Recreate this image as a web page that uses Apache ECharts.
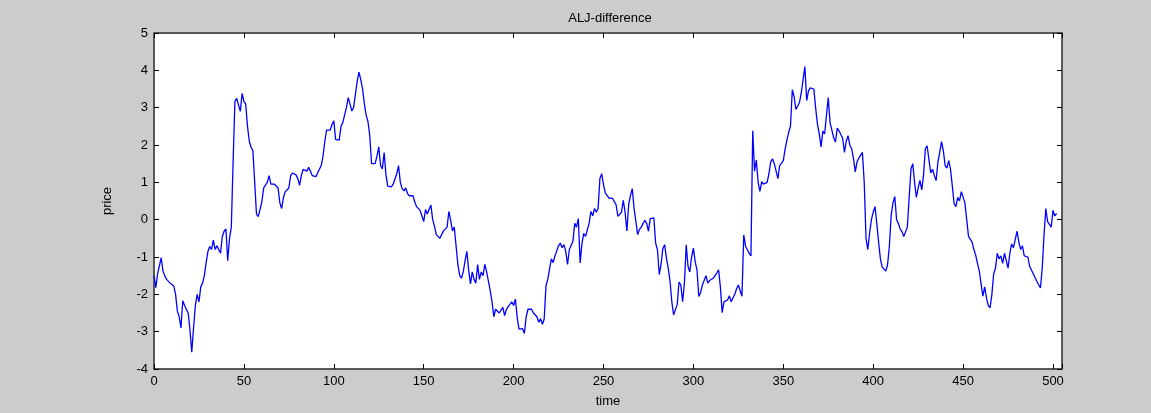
<!DOCTYPE html>
<html>
<head>
<meta charset="utf-8">
<title>ALJ-difference</title>
<script src="https://cdn.jsdelivr.net/npm/echarts@6/dist/echarts.min.js"></script>
<style>
  html, body { margin: 0; padding: 0; background: #cccccc; }
  #chart { width: 1151px; height: 413px; }
</style>
</head>
<body>
<div id="chart"></div>
<script>
// Price difference series, one value per time step (t = 0 .. 502)
const price = [
  -1.5, -1.82, -1.45, -1.5, -1.02, -1.38, -1.5, -1.6, -1.55, -1.7,
  -1.68, -1.78, -2.0, -2.45, -2.6, -2.9, -2.17, -2.3, -2.4, -2.5,
  -2.95, -3.55, -2.9, -2.3, -2.0, -2.2, -1.8, -1.7, -1.5, -1.15,
  -0.85, -0.72, -0.8, -0.55, -0.8, -0.7, -0.72, -0.9, -0.45, -0.31,
  -0.25, -1.1, -0.5, -0.2, 1.55, 3.17, 3.25, 3.3, 2.9, 3.38,
  3.17, 3.1, 2.5, 2.1, 1.94, 1.85, 1.0, 0.15, 0.08, 0.1,
  0.48, 0.85, 0.85, 1.0, 1.18, 0.95, 1.0, 0.95, 0.95, 0.85,
  0.45, 0.3, 0.6, 0.75, 0.7, 0.85, 1.18, 1.25, 1.28, 1.2,
  1.1, 0.92, 1.2, 1.35, 1.35, 1.3, 1.4, 1.3, 1.18, 1.15,
  1.15, 1.25, 1.25, 1.45, 1.7, 2.1, 2.4, 2.45, 2.4, 2.55,
  2.65, 2.15, 2.13, 2.13, 2.5, 2.6, 2.6, 3.0, 3.27, 3.1,
  2.91, 3.0, 3.0, 3.7, 3.95, 3.75, 3.5, 3.1, 2.8, 2.63,
  2.25, 1.5, 1.45, 1.5, 1.7, 1.95, 1.45, 1.36, 1.8, 1.2,
  0.9, 0.92, 0.88, 0.95, 0.9, 1.23, 1.45, 1.0, 0.83, 0.77,
  0.85, 0.7, 0.64, 0.66, 0.64, 0.48, 0.35, 0.3, 0.25, 0.1,
  -0.05, 0.27, 0.15, 0.2, 0.39, 0.0, -0.18, -0.4, -0.45, -0.5,
  -0.55, -0.3, -0.25, -0.2, 0.22, -0.02, -0.3, -0.2, -0.7, -1.2,
  -1.49, -1.57, -1.4, -1.1, -0.85, -1.35, -1.72, -1.4, -1.6, -1.7,
  -1.2, -1.6, -1.4, -1.5, -1.2, -1.4, -1.45, -1.9, -2.2, -2.6,
  -2.4, -2.44, -2.5, -2.45, -2.35, -2.57, -2.4, -2.33, -2.35, -2.2,
  -2.3, -2.13, -2.62, -2.93, -2.9, -2.92, -3.05, -2.6, -2.4, -2.38,
  -2.4, -2.5, -2.5, -2.6, -2.75, -2.65, -2.8, -2.67, -1.77, -1.6,
  -1.32, -1.05, -1.15, -0.97, -0.95, -0.7, -0.63, -0.75, -0.67, -0.85,
  -1.2, -0.8, -0.8, -0.58, -0.1, -0.2, 0.03, -1.16, -0.65, -0.37,
  -0.45, -0.4, -0.1, 0.22, 0.1, 0.3, 0.2, 0.3, 1.1, 1.23,
  0.94, 0.71, 0.65, 0.58, 0.58, 0.57, 0.6, 0.4, 0.09, 0.12,
  0.2, 0.52, 0.2, -0.3, 0.4, 0.65, 0.83, 0.3, -0.05, -0.4,
  -0.26, -0.2, -0.1, -0.02, -0.1, -0.31, 0.03, 0.0, 0.05, -0.63,
  -0.8, -1.47, -1.2, -0.77, -0.67, -1.03, -1.3, -1.65, -2.2, -2.55,
  -2.57, -2.27, -1.67, -1.75, -2.2, -1.7, -0.67, -1.25, -1.4, -1.0,
  -0.76, -1.13, -1.35, -2.06, -1.95, -1.75, -1.7, -1.5, -1.7, -1.63,
  -1.63, -1.57, -1.5, -1.43, -1.34, -1.8, -2.49, -2.2, -2.2, -2.15,
  -2.04, -2.2, -2.2, -2.0, -1.85, -1.75, -1.7, -2.05, -0.41, -0.71,
  -0.67, -0.9, -0.97, 2.38, 1.3, 1.6, 1.0, 0.76, 1.02, 0.95,
  0.9, 1.0, 1.23, 1.55, 1.63, 1.5, 1.3, 1.1, 1.45, 1.45,
  1.58, 1.89, 2.13, 2.34, 2.51, 3.48, 3.3, 2.95, 2.93, 3.14,
  3.4, 3.75, 4.1, 3.19, 3.45, 3.53, 3.55, 3.5, 2.98, 2.55,
  2.3, 1.95, 2.37, 2.3, 2.8, 3.27, 2.6, 2.4, 2.2, 2.08,
  2.45, 2.38, 2.38, 2.18, 1.8, 2.1, 2.25, 2.0, 1.9, 1.65,
  1.28, 1.55, 1.65, 1.7, 1.8, 1.0, -0.5, -0.8, -0.35, 0.0,
  0.2, 0.35, -0.1, -0.6, -1.05, -1.27, -1.32, -1.38, -1.2, -0.7,
  0.12, 0.45, 0.62, 0.0, -0.1, -0.25, -0.32, -0.45, -0.4, -0.2,
  0.6, 1.35, 1.5, 1.0, 0.6, 0.85, 1.05, 0.8, 1.2, 1.9,
  1.98, 1.6, 1.25, 1.35, 1.18, 1.05, 1.55, 1.8, 2.09, 1.85,
  1.45, 1.38, 1.58, 1.35, 0.9, 0.43, 0.35, 0.6, 0.5, 0.75,
  0.78, 0.45, 0.0, -0.45, -0.45, -0.6, -0.8, -0.95, -1.17, -1.38,
  -1.72, -2.05, -1.8, -2.1, -2.3, -2.36, -2.0, -1.45, -1.3, -0.9,
  -1.05, -0.97, -1.17, -0.9, -0.9, -1.3, -0.9, -0.65, -0.75, -0.7,
  -0.31, -0.6, -0.8, -0.7, -0.97, -0.95, -1.0, -1.25, -1.25, -1.45,
  -1.55, -1.65, -1.62, -1.83, -1.3, -0.41, 0.3, -0.05, -0.1, -0.2,
  0.25, 0.1, 0.17
];

// Axis ranges and tick steps
const timeRange = [0, 505];
const timeStep = 50;
const priceRange = [-4, 5];
const priceStep = 1;

const points = price.map((v, i) => [i, v]);

const chart = echarts.init(document.getElementById('chart'), null, { renderer: 'canvas' });

const tickFont = { color: '#000', fontFamily: 'Liberation Sans, Arial, sans-serif', fontSize: 13 };
const frame = { show: true, onZero: false, lineStyle: { color: '#444', width: 1.5 } };
const ticksIn = { show: true, inside: true, length: 5, lineStyle: { color: '#000', width: 1 } };

chart.setOption({
  backgroundColor: '#cccccc',
  animation: false,
  title: {
    text: 'ALJ-difference',
    left: 605,
    top: 7,
    textAlign: 'center',
    textStyle: { color: '#000', fontWeight: 'normal', fontSize: 13, fontFamily: 'Liberation Sans, Arial, sans-serif' }
  },
  grid: {
    left: 154, right: 89, top: 33, bottom: 41,
    show: true, backgroundColor: '#ffffff', borderColor: '#444', borderWidth: 1
  },
  xAxis: [
    {
      type: 'value', position: 'bottom',
      min: timeRange[0], max: timeRange[1], interval: timeStep,
      name: 'time', nameLocation: 'middle', nameGap: 26,
      nameTextStyle: tickFont,
      axisLine: frame, axisTick: ticksIn,
      axisLabel: Object.assign({ margin: 6, formatter: v => (v % timeStep === 0 ? String(v) : '') }, tickFont),
      splitLine: { show: false }
    },
    {
      type: 'value', position: 'top',
      min: timeRange[0], max: timeRange[1], interval: timeStep,
      axisLine: frame, axisTick: ticksIn, axisLabel: { show: false }, splitLine: { show: false }
    }
  ],
  yAxis: [
    {
      type: 'value', position: 'left',
      min: priceRange[0], max: priceRange[1], interval: priceStep,
      name: 'price', nameLocation: 'middle', nameGap: 40, nameRotate: 90,
      nameTextStyle: tickFont,
      axisLine: frame, axisTick: ticksIn,
      axisLabel: Object.assign({ margin: 6 }, tickFont),
      splitLine: { show: false }
    },
    {
      type: 'value', position: 'right',
      min: priceRange[0], max: priceRange[1], interval: priceStep,
      axisLine: frame, axisTick: ticksIn, axisLabel: { show: false }, splitLine: { show: false }
    }
  ],
  series: [
    {
      type: 'line',
      data: points,
      showSymbol: false,
      xAxisIndex: 0, yAxisIndex: 0,
      lineStyle: { color: '#0000ff', width: 1.3 }
    }
  ]
});
</script>
</body>
</html>
